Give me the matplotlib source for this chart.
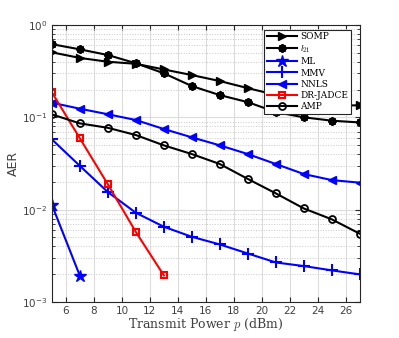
import numpy as np
import matplotlib.pyplot as plt

# transmit power (dBm)
power = [5, 7, 9, 11, 13, 15, 17, 19, 21, 23, 25, 27]

somp = [0.506, 0.44, 0.40, 0.38, 0.33, 0.287, 0.247, 0.207, 0.175, 0.15, 0.134, 0.135]
l21 = [0.62, 0.545, 0.473, 0.385, 0.30, 0.218, 0.174, 0.146, 0.114, 0.10, 0.092, 0.088]
ml_power = [5, 7]
ml = [0.0113, 0.00192]
mmv = [0.0577, 0.0298, 0.0155, 0.00925, 0.00653, 0.00508, 0.0042, 0.00335,
       0.00268, 0.00245, 0.0022, 0.00199]
nnls = [0.144, 0.124, 0.108, 0.0935, 0.0747, 0.0607, 0.0497, 0.040, 0.0312,
        0.0243, 0.0209, 0.0196]
dr_power = [5, 7, 9, 11, 13]
dr_jadce = [0.1866, 0.0592, 0.0188, 0.00572, 0.00194]
amp = [0.1077, 0.086, 0.077, 0.0643, 0.0497, 0.040, 0.0312, 0.0215, 0.0150,
       0.0103, 0.00785, 0.00548]

plt.rcParams['mathtext.fontset'] = 'cm'

fig = plt.figure(figsize=(3.99, 3.38), dpi=100)
ax = fig.add_axes([0.130, 0.1065, 0.772, 0.8195])

lw = 1.5
ax.plot(power, somp, color='k', lw=lw, marker='>', ms=6, label='SOMP')
ax.plot(power, l21, color='k', lw=lw, marker=(8, 2, 0), ms=6, mew=1.5,
        label=r'$l_{21}$')
ax.plot(ml_power, ml, color='b', lw=lw, marker='*', ms=9, label='ML')
ax.plot(power, mmv, color='b', lw=lw, marker='+', ms=8, mew=1.5, label='MMV')
ax.plot(power, nnls, color='b', lw=lw, marker='<', ms=6, label='NNLS')
ax.plot(dr_power, dr_jadce, color='r', lw=lw, marker='s', ms=5, mew=1.5,
        mfc='none', label='DR-JADCE')
ax.plot(power, amp, color='k', lw=lw, marker='o', ms=5, mew=1.3,
        mfc='none', label='AMP')

ax.set_yscale('log')
ax.set_xlim(5, 27)
ax.set_ylim(1e-3, 1)
ax.set_xticks([6, 8, 10, 12, 14, 16, 18, 20, 22, 24, 26])

ax.grid(True, which='major', color='#dcdcdc', lw=0.8, ls='-')
ax.grid(True, which='minor', axis='y', color='#c8c8c8', lw=0.7, ls=':')
ax.set_axisbelow(True)

for s in ax.spines.values():
    s.set_color('#262626')
    s.set_linewidth(0.8)
ax.tick_params(which='both', direction='in', colors='#262626',
               labelcolor='#404040', labelsize=7.5, top=True, right=True, pad=3)
ax.tick_params(which='minor', length=2)

ax.set_xlabel(r'Transmit Power $p$ (dBm)', family='serif', fontsize=9,
              color='#404040', labelpad=0)
ax.set_ylabel('AER', fontsize=9, color='#404040', labelpad=2)

leg = ax.legend(loc='upper right', bbox_to_anchor=(0.985, 1.0), fancybox=False,
                framealpha=1, edgecolor='#262626', handlelength=3.4,
                labelspacing=0.25, borderpad=0.3, handletextpad=0.3,
                prop={'family': 'serif', 'size': 6.5})
leg.get_frame().set_linewidth(0.8)

fig.savefig('out.png', dpi=100)
